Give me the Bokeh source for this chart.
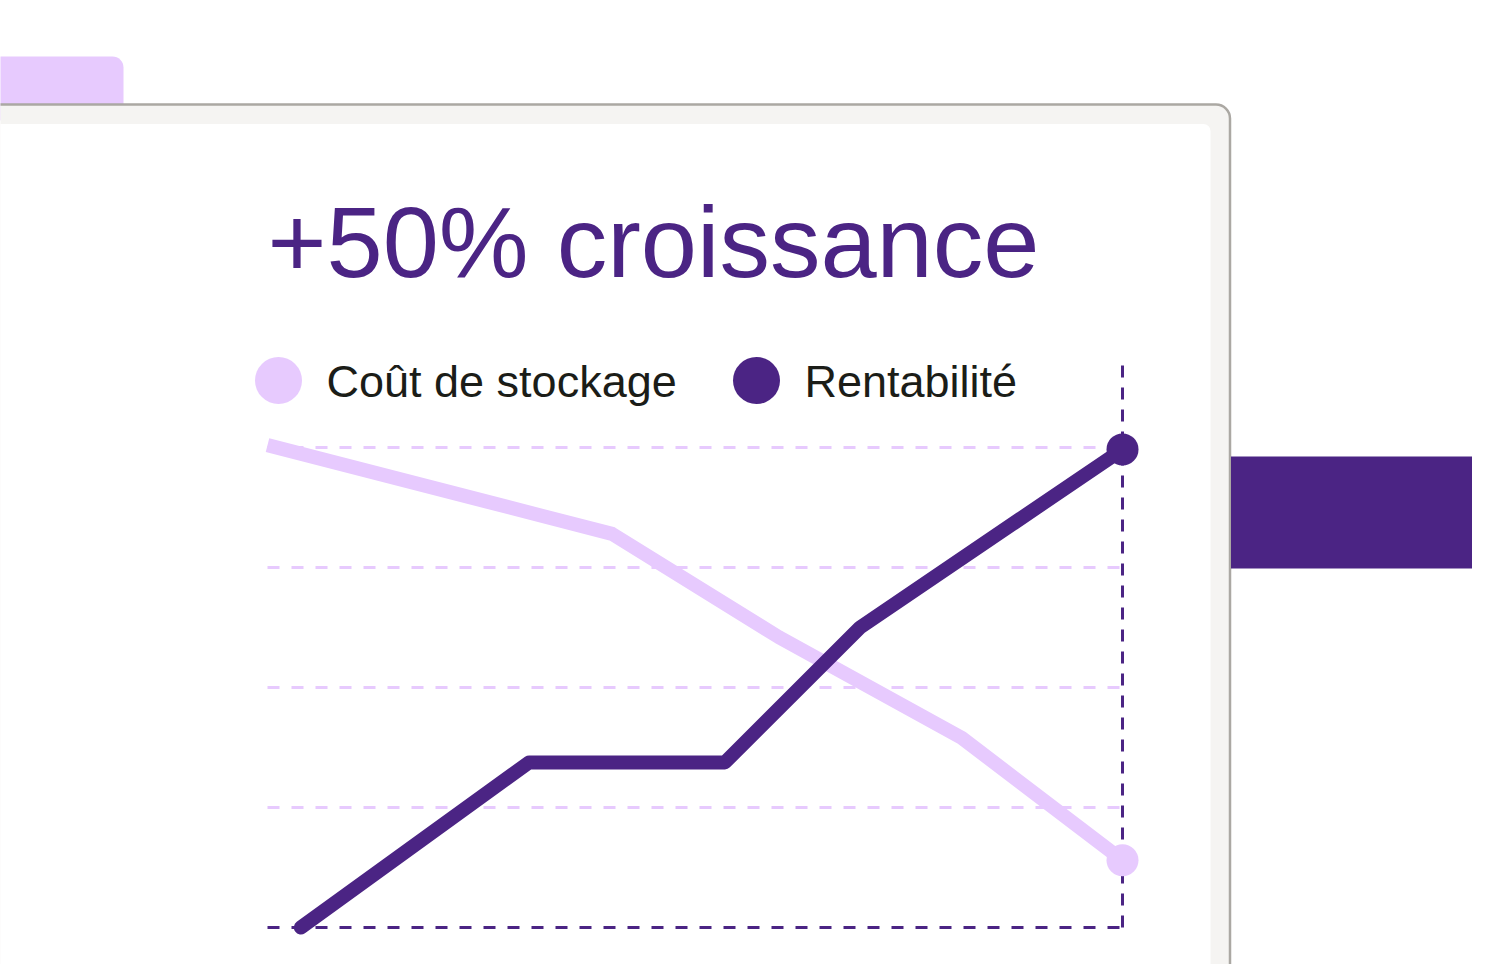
from bokeh.plotting import figure
from bokeh.models import Range1d
from bokeh.core.properties import value
from bokeh.embed import file_html
from bokeh.resources import INLINE

# ---------------- data ----------------
title_text = "+50% croissance"
series_names = ["Coût de stockage", "Rentabilité"]
cout_x = [0.0, 4.03, 5.98, 8.12, 10.0]
cout_y = [100.5, 82.0, 60.5, 39.5, 14.0]
rent_x = [0.39, 3.06, 5.35, 6.93, 10.0]
rent_y = [0.0, 34.4, 34.4, 62.5, 99.6]
grid_ticks = [25, 50, 75, 100]
x_start, x_end = 0.0, 10.0

# ---------------- styles ----------------
DARK = "#4B2484"
LIGHT = "#E7CAFE"
TEXT = "#1B1D18"
FONT = "Liberation Sans"

W, H = 1472, 964
# picture-pixel -> data helpers
PX0, PXU = 267.0, 85.5     # pixel x of data x=0, pixels per x unit
PY0, PYU = 927.0, 4.8      # pixel y of data y=0, pixels per y unit


def X(px):
    return (px - PX0) / PXU


def Y(py):
    return (PY0 - py) / PYU


x_range = Range1d(X(0), X(W))
y_range = Range1d(Y(H), Y(0))

p = figure(width=W, height=H, x_range=x_range, y_range=y_range,
           output_backend="svg", toolbar_location=None, min_border=0)
p.axis.visible = False
p.grid.visible = False
p.outline_line_color = None
p.background_fill_color = "white"
p.border_fill_color = "white"

# ---------------- decorations ----------------
# lavender tab
p.quad(left=[X(-30)], right=[X(123)], top=[Y(56)], bottom=[Y(120)],
       fill_color=LIGHT, line_color=None, border_radius=(0, 11, 0, 0))
# window frame
p.quad(left=[X(-30)], right=[X(1229.5)], top=[Y(104)], bottom=[Y(1010)],
       fill_color="#F5F4F2", line_color="#ABA8A3", line_width=2.5,
       border_radius=(0, 14, 0, 0))
# inner white panel
p.quad(left=[X(-30)], right=[X(1210)], top=[Y(123.5)], bottom=[Y(1010)],
       fill_color="white", line_color=None, border_radius=(0, 7, 0, 0))
# purple band on the right
p.quad(left=[X(1230.5)], right=[X(1520)], top=[Y(456)], bottom=[Y(568)],
       fill_color=DARK, line_color=None)

# ---------------- chart ----------------
# horizontal gridlines
p.segment(x0=[x_start] * len(grid_ticks), x1=[x_end] * len(grid_ticks),
          y0=grid_ticks, y1=grid_ticks,
          line_color=LIGHT, line_width=3, line_dash="12 12")
# baseline
p.segment(x0=[x_start], x1=[x_end], y0=[0], y1=[0],
          line_color=DARK, line_width=3, line_dash="12 12")
# vertical marker line at the last point
p.segment(x0=[x_end], x1=[x_end], y0=[0], y1=[Y(360)],
          line_color=DARK, line_width=3, line_dash="12 10")

# series
p.line(cout_x, cout_y, line_color=LIGHT, line_width=14,
       line_join="round", line_cap="butt")
p.line(rent_x, rent_y, line_color=DARK, line_width=14,
       line_join="round", line_cap="round")
p.scatter([cout_x[-1]], [cout_y[-1]], size=32, marker="circle",
          fill_color=LIGHT, line_color=None)
p.scatter([rent_x[-1]], [rent_y[-1]], size=32, marker="circle",
          fill_color=DARK, line_color=None)

# title (text anchor compensates Bokeh's baseline offset)
p.text(x=[X(267)], y=[Y(241)], text=[title_text], text_color=DARK,
       text_font=value(FONT), text_font_size="101px",
       text_align="left", text_baseline="alphabetic")

# legend
p.scatter([X(278), X(756)], [Y(380), Y(380)], size=47, marker="circle",
          fill_color=[LIGHT, DARK], line_color=None)
p.text(x=[X(326), X(804)], y=[Y(381), Y(381)], text=series_names,
       text_color=TEXT, text_font=value(FONT), text_font_size="45px",
       text_align="left", text_baseline="alphabetic")

open("out.html", "w").write(file_html(p, INLINE))
